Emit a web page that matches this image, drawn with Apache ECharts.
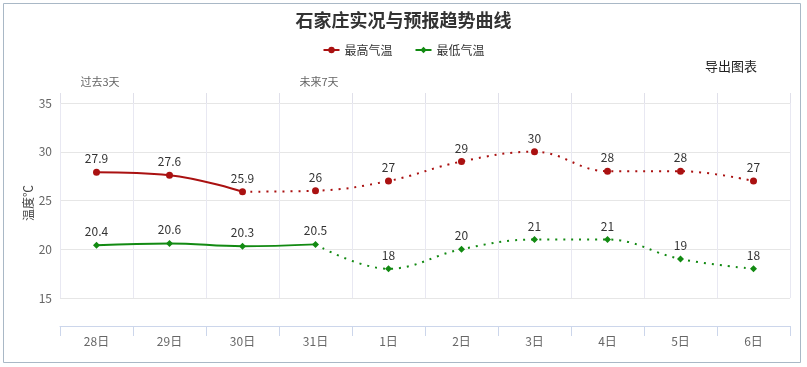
<!DOCTYPE html>
<html><head><meta charset="utf-8">
<script src="https://cdn.jsdelivr.net/npm/echarts@6/dist/echarts.min.js"></script>
<style>html,body{margin:0;padding:0;background:#fff}#c{width:807px;height:367px}</style>
</head><body><div id="c"></div>
<script>
const categories = ['28日','29日','30日','31日','1日','2日','3日','4日','5日','6日'];
const topLabels = ['过去3天','','','未来7天','','','','','',''];
const maxTemp = [27.9, 27.6, 25.9, 26, 27, 29, 30, 28, 28, 27];
const minTemp = [20.4, 20.6, 20.3, 20.5, 18, 20, 21, 21, 19, 18];
const maxSplit = 2; // last observed index for max line
const minSplit = 3; // last observed index for min line
const yTicks = [15, 20, 25, 30, 35];
const yName = '温度℃';

const MAXC = '#aa1111', MINC = '#128a12';

function solidPart(arr, s){ return arr.map((v,i)=> i<=s ? v : null); }
function dottedPart(arr, s){
  return arr.map((v,i)=> i<s ? null : (i===s ? {value:v, symbol:'none', label:{show:false}} : v));
}
const labelCfg = {show:true, position:'top', distance:4, color:'#333', fontSize:12, fontFamily:'Noto Sans CJK SC'};

const chart = echarts.init(document.getElementById('c'), null, {renderer:'canvas'});
chart.setOption({
  backgroundColor:'#fff',
  animation:false,
  textStyle:{fontFamily:'Noto Sans CJK SC'},
  title:{text:'石家庄实况与预报趋势曲线', left:'center', top:6,
    textStyle:{fontSize:18, fontWeight:'bold', color:'#333', fontFamily:'Noto Sans CJK SC'}},
  legend:{data:['最高气温','最低气温'], top:39, left:'center', itemWidth:16, itemHeight:8, itemGap:22,
    textStyle:{fontSize:12, color:'#333'}},
  graphic:[
    {type:'rect', shape:{x:3.5,y:3.5,width:797,height:359}, style:{fill:'none', stroke:'#a9b8c6', lineWidth:1}, silent:true},
    {type:'text', left:705, top:60, style:{text:'导出图表', fontSize:13, fill:'#222', fontFamily:'Noto Sans CJK SC'}},
    {type:'text', x:28, y:203, rotation:Math.PI/2,
      style:{text:yName, fontSize:12, fill:'#444', align:'center', verticalAlign:'middle', fontFamily:'Noto Sans CJK SC'}}
  ],
  grid:{left:60, right:17, top:103, bottom:69},
  xAxis:[
    {type:'category', data:categories, boundaryGap:true, position:'bottom', offset:28,
      axisLine:{show:true, lineStyle:{color:'#ccd6eb'}},
      axisTick:{show:true, length:10, interval:0, lineStyle:{color:'#ccd6eb'}},
      axisLabel:{color:'#666', fontSize:12, margin:9, interval:0},
      splitLine:{show:true, interval:0, lineStyle:{color:'#e8e8f2'}}},
    {type:'category', data:categories, boundaryGap:true, position:'top',
      axisLine:{show:false},
      axisTick:{show:true, length:10, interval:0, lineStyle:{color:'#e0e0ea'}},
      axisLabel:{interval:0, margin:16, color:'#666', fontSize:11, padding:[0,0,0,7], formatter:(v,i)=>topLabels[i]},
      splitLine:{show:false}}
  ],
  yAxis:{type:'value', min:yTicks[0], max:yTicks[yTicks.length-1], interval:5,
    axisLine:{show:false}, axisTick:{show:false},
    axisLabel:{color:'#666', fontSize:12, margin:8},
    splitLine:{show:true, lineStyle:{color:'#e6e6e6'}}},
  series:[
    {name:'最高气温', type:'line', smooth:0.4, data:solidPart(maxTemp,maxSplit),
      symbol:'circle', symbolSize:7, itemStyle:{color:MAXC}, lineStyle:{color:MAXC, width:2},
      label:labelCfg},
    {name:'最低气温', type:'line', smooth:0.4, data:solidPart(minTemp,minSplit),
      symbol:'diamond', symbolSize:7, itemStyle:{color:MINC}, lineStyle:{color:MINC, width:2},
      label:labelCfg},
    {name:'最高气温', type:'line', smooth:0.4, data:dottedPart(maxTemp,maxSplit),
      symbol:'circle', symbolSize:7, itemStyle:{color:MAXC}, lineStyle:{color:MAXC, width:2, type:[2,6]},
      label:labelCfg},
    {name:'最低气温', type:'line', smooth:0.4, data:dottedPart(minTemp,minSplit),
      symbol:'diamond', symbolSize:7, itemStyle:{color:MINC}, lineStyle:{color:MINC, width:2, type:[2,6]},
      label:labelCfg}
  ]
});
</script></body></html>
